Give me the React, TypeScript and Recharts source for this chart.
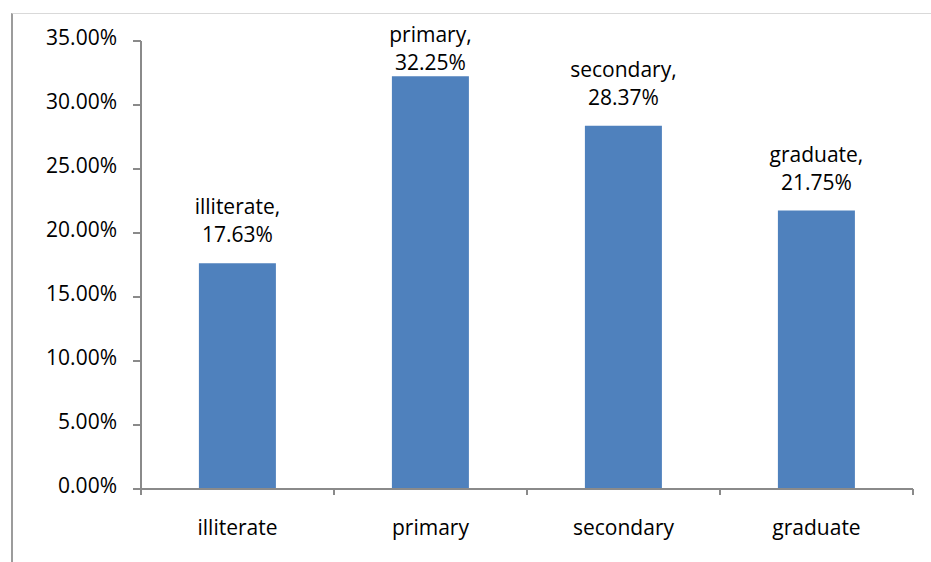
import { BarChart, Bar, XAxis, YAxis, LabelList } from "recharts";

const levels = ["illiterate", "primary", "secondary", "graduate"];
const shares = [17.63, 32.25, 28.37, 21.75];
const yTicks = [0, 5, 10, 15, 20, 25, 30, 35];

const rows = levels.map((level, i) => ({ level, share: shares[i] }));

const font = "'Open Sans', Lato, sans-serif";
const axisGray = "#8a8a8a";
const textSize = 21;

// two-line "name,\nvalue%" label above each bar, kept inside the frame at the top
function BarLabel(props: any) {
  const { x, y, width, index } = props;
  const cx = x + width / 2;
  const base = Math.max(y - 21, 70);
  return (
    <text x={cx} textAnchor="middle" fontFamily={font} fontSize={textSize} fill="#000">
      <tspan x={cx} y={base - 28}>{levels[index]},</tspan>
      <tspan x={cx} y={base}>{shares[index].toFixed(2)}%</tspan>
    </text>
  );
}

function PercentTick(props: any) {
  const { x, y, payload } = props;
  return (
    <text x={x} y={y + 4} textAnchor="end" fontFamily={font} fontSize={textSize} fill="#000">
      {`${payload.value.toFixed(2)}%`}
    </text>
  );
}

// category label plus tick marks on the band boundaries (left edge, and right edge for the last one)
function LevelTick(props: any) {
  const { x, y, payload, index, width, visibleTicksCount } = props;
  const half = payload.offset || width / visibleTicksCount / 2;
  const last = index === visibleTicksCount - 1;
  return (
    <g>
      <line x1={x - half} x2={x - half} y1={y} y2={y + 6} stroke={axisGray} strokeWidth={2} />
      {last && <line x1={x + half} x2={x + half} y1={y} y2={y + 6} stroke={axisGray} strokeWidth={2} />}
      <text x={x} y={y + 46} textAnchor="middle" fontFamily={font} fontSize={textSize} fill="#000">
        {payload.value}
      </text>
    </g>
  );
}

export default function App() {
  return (
    <div style={{ position: "absolute", left: 0, top: 0, width: 931, height: 562, background: "#fff" }}>
      <div
        style={{
          position: "absolute",
          left: 11,
          top: 13,
          width: 920,
          height: 549,
          borderTop: "1px solid #d9d9d9",
          borderLeft: "2px solid #9c9c9c",
          boxSizing: "border-box",
        }}
      />
      <div style={{ position: "absolute", left: 0, top: 0 }}>
        <BarChart
          width={931}
          height={562}
          data={rows}
          margin={{ top: 41, right: 18, bottom: 0, left: 0 }}
          barCategoryGap="30%"
        >
          <YAxis
            width={141}
            domain={[0, 35]}
            ticks={yTicks}
            interval={0}
            tickSize={8}
            tickMargin={16}
            axisLine={{ stroke: axisGray, strokeWidth: 2 }}
            tickLine={{ stroke: axisGray, strokeWidth: 2 }}
            tick={<PercentTick />}
          />
          <XAxis
            dataKey="level"
            height={73}
            interval={0}
            tickLine={false}
            tickSize={0}
            tickMargin={0}
            axisLine={{ stroke: axisGray, strokeWidth: 2 }}
            tick={<LevelTick />}
          />
          <Bar dataKey="share" fill="#4f81bd" isAnimationActive={false}>
            <LabelList dataKey="share" content={BarLabel} />
          </Bar>
        </BarChart>
      </div>
    </div>
  );
}
